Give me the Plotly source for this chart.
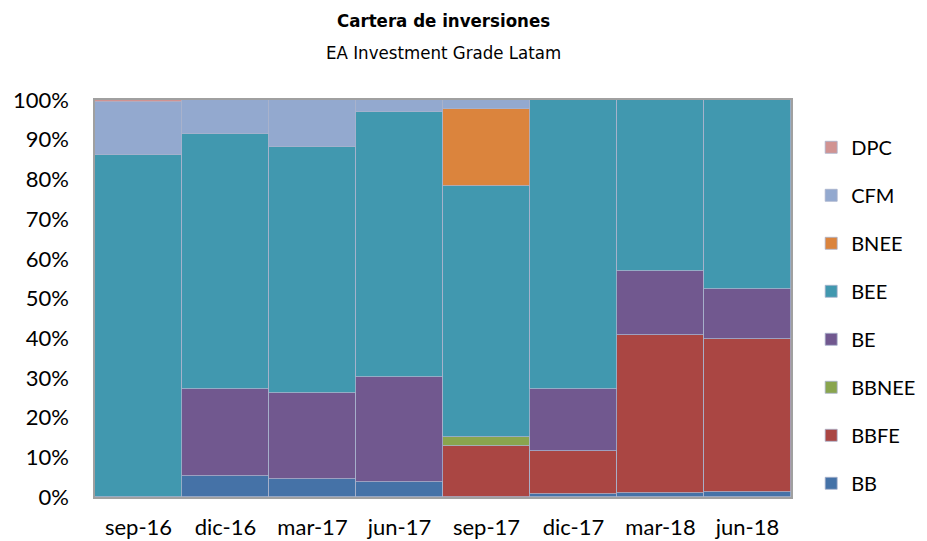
import plotly.graph_objects as go

categories = ["sep-16", "dic-16", "mar-17", "jun-17", "sep-17", "dic-17", "mar-18", "jun-18"]
BB    = [0.0, 5.3, 4.5, 3.9, 0.0, 0.8, 1.0, 1.3]
BBFE  = [0.0, 0.0, 0.0, 0.0, 12.9, 10.8, 39.8, 38.5]
BBNEE = [0.0, 0.0, 0.0, 0.0, 2.3, 0.0, 0.0, 0.0]
BE    = [0.0, 21.8, 21.6, 26.4, 0.0, 15.7, 16.2, 12.7]
BEE   = [86.2, 64.3, 62.0, 66.8, 63.2, 72.7, 43.0, 47.5]
BNEE  = [0.0, 0.0, 0.0, 0.0, 19.3, 0.0, 0.0, 0.0]
CFM   = [13.3, 8.6, 11.9, 2.9, 2.3, 0.0, 0.0, 0.0]
DPC   = [0.5, 0.0, 0.0, 0.0, 0.0, 0.0, 0.0, 0.0]

series = [
    ("BB", BB, "#4572A7"),
    ("BBFE", BBFE, "#AA4643"),
    ("BBNEE", BBNEE, "#89A54E"),
    ("BE", BE, "#71588F"),
    ("BEE", BEE, "#4198AF"),
    ("BNEE", BNEE, "#DB843D"),
    ("CFM", CFM, "#93A9CF"),
    ("DPC", DPC, "#D19392"),
]

fig = go.Figure()
n = len(series)
for i, (name, vals, color) in enumerate(series):
    fig.add_trace(go.Bar(
        x=categories, y=[v / 100 for v in vals], name=name,
        marker=dict(color=color, line=dict(color="#A9B3CC", width=0.8)),
        legendgroup=name, legendrank=n - i,
    ))

fig.update_layout(
    barmode="stack", bargap=0,
    width=927, height=541,
    margin=dict(l=87, r=144, t=92, b=52, autoexpand=False),
    paper_bgcolor="white", plot_bgcolor="white",
    font=dict(family="Lato, Open Sans", size=21, color="black"),
    legend=dict(
        x=1.029, xanchor="left", y=0.93, yanchor="top",
        traceorder="grouped", tracegroupgap=19,
        font=dict(size=20), itemwidth=30,
    ),
    showlegend=True,
    annotations=[
        dict(text="<b>Cartera de inversiones</b>", xref="paper", yref="paper",
             x=0.5, y=1.2015, xanchor="center", yanchor="middle", showarrow=False,
             font=dict(family="DejaVu Sans Condensed, DejaVu Sans", size=18.5, color="black")),
        dict(text="EA Investment Grade Latam", xref="paper", yref="paper",
             x=0.5, y=1.1209, xanchor="center", yanchor="middle", showarrow=False,
             font=dict(family="DejaVu Sans Condensed, DejaVu Sans", size=18.5, color="black")),
    ],
)
fig.update_xaxes(showline=True, linecolor="#A0A0A0", linewidth=1.5, mirror=True,
                 ticks="", ticklabelstandoff=10, automargin=False, tickfont=dict(size=22))
fig.update_yaxes(range=[0, 1], tickformat=".0%", dtick=0.1, showgrid=False,
                 showline=True, linecolor="#A0A0A0", linewidth=1.5, mirror=True,
                 ticks="", ticklabelstandoff=20, automargin=False, tickfont=dict(size=22))

fig.write_html("out.html")
